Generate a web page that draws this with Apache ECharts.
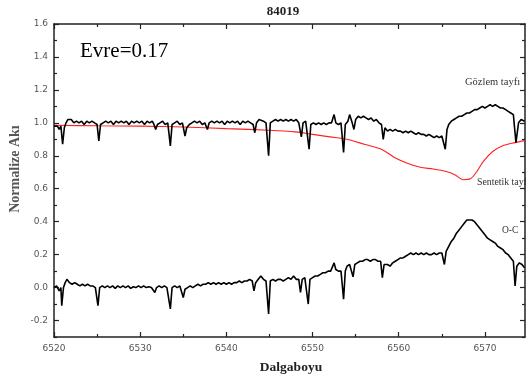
<!DOCTYPE html>
<html>
<head>
<meta charset="utf-8">
<script src="https://cdn.jsdelivr.net/npm/echarts@6/dist/echarts.min.js"></script>
<style>
html,body{margin:0;padding:0;background:#fff;}
#c{width:526px;height:385px;}
</style>
</head>
<body>
<div id="c"></div>
<script>
// ---- data: [wavelength, normalized flux] ----
const observed = [
[6520.0,0.98],[6520.2,0.99],[6520.4,0.98],[6520.6,0.96],[6520.8,0.98],[6521.0,0.87],[6521.2,0.97],[6521.4,1.00],[6521.6,1.02],[6521.8,1.01],
[6522.0,1.02],[6522.3,1.00],[6522.6,1.01],[6522.9,1.00],[6523.2,1.01],[6523.5,0.99],[6523.8,1.01],[6524.1,1.00],[6524.4,1.01],[6524.7,1.00],
[6525.0,0.99],[6525.2,0.89],[6525.4,0.99],[6525.7,1.00],[6526.0,1.01],[6526.3,1.00],[6526.6,1.01],[6526.9,0.99],[6527.2,1.01],[6527.5,1.00],
[6527.8,1.01],[6528.1,1.00],[6528.4,1.01],[6528.7,0.99],[6529.0,1.01],[6529.3,1.00],[6529.6,1.01],[6529.9,1.00],[6530.2,1.01],[6530.5,0.99],
[6530.8,1.01],[6531.1,1.00],[6531.4,1.01],[6531.6,0.99],[6531.8,0.96],[6532.0,0.99],[6532.3,1.00],[6532.6,1.01],[6532.9,0.99],[6533.2,1.00],
[6533.5,0.86],[6533.7,0.99],[6534.0,1.00],[6534.3,1.01],[6534.6,0.99],[6534.9,1.00],[6535.2,0.92],[6535.4,0.97],[6535.7,0.99],[6536.0,1.00],
[6536.3,1.01],[6536.6,1.00],[6536.9,1.01],[6537.2,0.99],[6537.5,1.00],[6537.8,0.96],[6538.0,1.00],[6538.3,1.01],[6538.6,1.00],[6538.9,1.01],
[6539.2,1.00],[6539.5,1.01],[6539.8,0.99],[6540.1,1.01],[6540.4,1.00],[6540.7,1.01],[6541.0,1.00],[6541.3,1.01],[6541.6,0.99],[6541.9,1.01],
[6542.2,1.00],[6542.5,1.01],[6542.8,1.00],[6543.1,0.99],[6543.3,0.94],[6543.5,1.00],[6543.8,1.02],[6544.0,1.03],[6544.3,1.01],[6544.6,1.00],
[6544.9,0.80],[6545.1,1.00],[6545.4,1.01],[6545.7,1.02],[6546.0,1.01],[6546.3,1.02],[6546.6,1.01],[6546.9,1.02],[6547.2,1.01],[6547.5,1.02],
[6547.8,1.01],[6548.1,1.02],[6548.4,1.00],[6548.7,0.915],[6548.9,1.00],[6549.2,1.01],[6549.4,1.00],[6549.6,0.84],[6549.8,0.99],[6550.1,1.00],
[6550.4,0.99],[6550.7,1.00],[6551.0,0.99],[6551.3,1.00],[6551.6,0.99],[6551.9,1.00],[6552.2,1.00],[6552.5,1.05],[6552.7,1.00],[6553.0,0.99],
[6553.3,1.00],[6553.6,0.82],[6553.8,0.99],[6554.1,1.01],[6554.3,1.05],[6554.6,1.00],[6554.8,0.96],[6555.0,1.02],[6555.3,1.04],[6555.6,1.03],
[6555.9,1.04],[6556.2,1.03],[6556.5,1.02],[6556.8,1.03],[6557.1,1.01],[6557.4,1.02],[6557.7,1.00],[6558.0,0.99],[6558.2,0.90],[6558.4,0.97],
[6558.7,0.95],[6559.0,0.96],[6559.3,0.95],[6559.6,0.96],[6559.9,0.95],[6560.2,0.95],[6560.5,0.94],[6560.8,0.95],[6561.1,0.94],[6561.4,0.95],
[6561.7,0.94],[6562.0,0.93],[6562.3,0.94],[6562.6,0.93],[6562.9,0.93],[6563.2,0.92],[6563.5,0.93],[6563.8,0.92],[6564.1,0.91],[6564.4,0.92],
[6564.7,0.91],[6565.0,0.92],[6565.2,0.91],[6565.4,0.84],[6565.6,0.96],[6565.8,0.99],[6566.1,1.01],[6566.4,1.02],[6566.7,1.03],[6567.0,1.04],
[6567.3,1.04],[6567.6,1.05],[6567.9,1.06],[6568.2,1.06],[6568.5,1.07],[6568.8,1.08],[6569.1,1.08],[6569.4,1.09],[6569.7,1.10],[6570.0,1.09],
[6570.3,1.10],[6570.6,1.11],[6570.9,1.10],[6571.2,1.11],[6571.5,1.10],[6571.8,1.09],[6572.1,1.09],[6572.4,1.08],[6572.7,1.07],[6573.0,1.06],
[6573.3,1.05],[6573.6,0.88],[6573.9,1.00],[6574.2,1.02],[6574.6,1.01]
];

const synthetic = [
[6520,0.985],[6525,0.982],[6530,0.98],[6535,0.975],[6540,0.965],[6545,0.955],[6548,0.945],[6550,0.93],[6552,0.915],[6554,0.90],
[6556,0.87],[6558,0.84],[6559.5,0.79],[6561,0.755],[6562.5,0.73],[6564,0.72],[6565.5,0.705],[6566.5,0.685],[6567.5,0.655],[6568.3,0.66],
[6569,0.70],[6569.8,0.765],[6570.9,0.826],[6572,0.86],[6573.5,0.88],[6574.6,0.892]
];

const residual = [
[6520.0,0.00],[6520.3,0.01],[6520.6,-0.02],[6520.8,0.00],[6520.9,-0.11],[6521.1,0.00],[6521.3,0.03],[6521.5,0.05],[6521.8,0.03],[6522.1,0.02],
[6522.4,0.03],[6522.7,0.02],[6523.0,0.01],[6523.3,0.02],[6523.6,0.01],[6523.9,0.02],[6524.2,0.01],[6524.5,0.01],[6524.8,0.00],[6525.1,-0.11],
[6525.3,0.00],[6525.6,0.01],[6525.9,0.00],[6526.2,0.01],[6526.5,0.00],[6526.8,0.01],[6527.1,-0.005],[6527.4,0.01],[6527.7,0.00],[6528.0,0.01],
[6528.3,0.00],[6528.6,0.01],[6528.9,-0.005],[6529.2,0.005],[6529.5,0.00],[6529.8,0.01],[6530.1,0.00],[6530.4,0.01],[6530.7,0.00],[6531.0,0.005],
[6531.3,0.00],[6531.5,0.00],[6531.7,-0.03],[6531.9,0.00],[6532.2,0.01],[6532.5,0.00],[6532.8,0.01],[6533.1,0.00],[6533.3,0.00],[6533.5,-0.13],
[6533.7,0.00],[6534.0,0.01],[6534.3,0.00],[6534.6,0.01],[6534.8,0.00],[6535.0,-0.06],[6535.2,-0.01],[6535.5,0.00],[6535.8,0.01],[6536.1,0.00],
[6536.4,0.01],[6536.7,0.02],[6537.0,0.01],[6537.3,0.02],[6537.6,0.02],[6537.9,0.03],[6538.2,0.02],[6538.5,0.03],[6538.8,0.02],[6539.1,0.03],
[6539.4,0.02],[6539.7,0.03],[6540.0,0.02],[6540.3,0.03],[6540.6,0.02],[6540.9,0.03],[6541.2,0.03],[6541.5,0.04],[6541.8,0.03],[6542.1,0.04],
[6542.4,0.04],[6542.7,0.05],[6543.0,0.04],[6543.2,-0.02],[6543.4,0.03],[6543.7,0.05],[6544.0,0.07],[6544.3,0.05],[6544.6,0.04],[6544.9,-0.16],
[6545.1,0.04],[6545.4,0.05],[6545.7,0.04],[6546.0,0.05],[6546.3,0.05],[6546.6,0.04],[6546.9,0.05],[6547.2,0.06],[6547.5,0.05],[6547.8,0.07],
[6548.1,0.05],[6548.4,0.05],[6548.6,-0.03],[6548.8,0.05],[6549.1,0.06],[6549.3,0.05],[6549.5,-0.10],[6549.7,0.05],[6550.0,0.06],[6550.3,0.07],
[6550.6,0.07],[6550.9,0.08],[6551.2,0.09],[6551.5,0.09],[6551.8,0.10],[6552.1,0.10],[6552.3,0.11],[6552.5,0.15],[6552.7,0.11],[6553.0,0.10],
[6553.3,0.10],[6553.6,-0.07],[6553.8,0.10],[6554.0,0.13],[6554.3,0.14],[6554.5,0.13],[6554.7,0.065],[6554.9,0.14],[6555.2,0.15],[6555.5,0.16],
[6555.8,0.16],[6556.1,0.17],[6556.4,0.17],[6556.7,0.16],[6557.0,0.17],[6557.3,0.17],[6557.6,0.16],[6557.9,0.16],[6558.1,0.06],[6558.3,0.14],
[6558.5,0.15],[6558.7,0.14],[6559.0,0.13],[6559.3,0.15],[6559.6,0.16],[6559.9,0.17],[6560.2,0.18],[6560.5,0.18],[6560.8,0.19],[6561.1,0.20],
[6561.4,0.21],[6561.7,0.20],[6562.0,0.21],[6562.3,0.20],[6562.6,0.21],[6562.9,0.20],[6563.2,0.21],[6563.5,0.20],[6563.8,0.20],[6564.1,0.21],
[6564.4,0.20],[6564.7,0.21],[6565.0,0.21],[6565.3,0.14],[6565.5,0.22],[6565.8,0.25],[6566.1,0.28],[6566.4,0.30],[6566.7,0.33],[6567.0,0.35],
[6567.3,0.37],[6567.6,0.39],[6567.9,0.41],[6568.2,0.41],[6568.5,0.41],[6568.8,0.40],[6569.1,0.38],[6569.4,0.36],[6569.7,0.34],[6570.0,0.32],
[6570.3,0.30],[6570.6,0.29],[6570.9,0.28],[6571.2,0.27],[6571.5,0.25],[6571.8,0.24],[6572.1,0.23],[6572.4,0.21],[6572.7,0.20],[6573.0,0.18],
[6573.3,0.16],[6573.5,0.01],[6573.7,0.13],[6574.0,0.15],[6574.3,0.14],[6574.6,0.12]
];

const xMajorTicks = [6520,6530,6540,6550,6560,6570];
const xMinorTicks = [6525,6535,6545,6555,6565];
const yMajorTicks = [-0.2,0.0,0.2,0.4,0.6,0.8,1.0,1.2,1.4,1.6];
const yMinorTicks = [-0.3,-0.1,0.1,0.3,0.5,0.7,0.9,1.1,1.3,1.5];

const chartTitle = '84019';
const xTitle = 'Dalgaboyu';
const yTitle = 'Normalize Akı';
const phaseText = 'Evre=0.17';
const obsLabel = 'Gözlem tayfı';
const synLabel = 'Sentetik tayf';
const ocLabel = 'O-C';

// ---- chart ----
const XMIN = 6520, XMAX = 6574.65, YMIN = -0.3, YMAX = 1.6;
const lineC = '#222';
const labelFont = {fontFamily: 'DejaVu Sans', fontSize: 9, color: '#555'};

function xAx(pos, ticks, len, showLabel, showLine) {
  return {
    type: 'value', position: pos, min: XMIN, max: XMAX,
    axisLine: {show: showLine, onZero: false, lineStyle: {color: lineC, width: 1.5}},
    axisTick: {show: true, inside: true, length: len, customValues: ticks, lineStyle: {color: lineC, width: 1.2}},
    axisLabel: showLabel ? Object.assign({show: true, margin: 7, customValues: ticks, formatter: v => String(v)}, labelFont) : {show: false},
    splitLine: {show: false}
  };
}
function yAx(pos, ticks, len, showLabel, showLine) {
  return {
    type: 'value', position: pos, min: YMIN, max: YMAX,
    axisLine: {show: showLine, onZero: false, lineStyle: {color: lineC, width: 1.5}},
    axisTick: {show: true, inside: true, length: len, customValues: ticks, lineStyle: {color: lineC, width: 1.2}},
    axisLabel: showLabel ? Object.assign({show: true, margin: 6, customValues: ticks, formatter: v => Number(v).toFixed(1)}, labelFont) : {show: false},
    splitLine: {show: false}
  };
}

const chart = echarts.init(document.getElementById('c'), null, {renderer: 'canvas'});
chart.setOption({
  animation: false,
  backgroundColor: '#fff',
  grid: {left: 54, right: 1, top: 24, bottom: 48, containLabel: false},
  xAxis: [
    xAx('bottom', xMajorTicks, 5, true, true),
    xAx('bottom', xMinorTicks, 3, false, false),
    xAx('top', xMajorTicks, 5, false, true),
    xAx('top', xMinorTicks, 3, false, false)
  ],
  yAxis: [
    yAx('left', yMajorTicks, 5, true, true),
    yAx('left', yMinorTicks, 3, false, false),
    yAx('right', yMajorTicks, 5, false, true),
    yAx('right', yMinorTicks, 3, false, false)
  ],
  series: [
    {type: 'line', name: synLabel, data: synthetic, showSymbol: false, smooth: 0.3,
     lineStyle: {color: '#ff2020', width: 1.1}, xAxisIndex: 0, yAxisIndex: 0},
    {type: 'line', name: obsLabel, data: observed, showSymbol: false,
     lineStyle: {color: '#000', width: 1.6}, xAxisIndex: 0, yAxisIndex: 0},
    {type: 'line', name: ocLabel, data: residual, showSymbol: false,
     lineStyle: {color: '#000', width: 1.6}, xAxisIndex: 0, yAxisIndex: 0}
  ],
  graphic: [
    {type: 'text', x: 283, y: 12, style: {text: chartTitle, font: 'bold 13px "Liberation Serif"', fill: '#222', textAlign: 'center', textVerticalAlign: 'middle'}},
    {type: 'text', x: 291, y: 368, style: {text: xTitle, font: 'bold 13.5px "Liberation Serif"', fill: '#222', textAlign: 'center', textVerticalAlign: 'middle'}},
    {type: 'text', x: 15, y: 169, rotation: Math.PI / 2, style: {text: yTitle, font: 'bold 14px "Liberation Serif"', fill: '#555', textAlign: 'center', textVerticalAlign: 'middle'}},
    {type: 'text', x: 80, y: 51, style: {text: phaseText, font: '21px "Liberation Serif"', fill: '#000', textAlign: 'left', textVerticalAlign: 'middle'}},
    {type: 'text', x: 465, y: 82, style: {text: obsLabel, font: '10.5px "Liberation Serif"', fill: '#333', textAlign: 'left', textVerticalAlign: 'middle'}},
    {type: 'text', x: 477, y: 182, style: {text: synLabel, font: '9.8px "Liberation Serif"', fill: '#333', textAlign: 'left', textVerticalAlign: 'middle'}},
    {type: 'text', x: 502, y: 230, style: {text: ocLabel, font: '9.5px "Liberation Serif"', fill: '#333', textAlign: 'left', textVerticalAlign: 'middle'}}
  ]
});
</script>
</body>
</html>
